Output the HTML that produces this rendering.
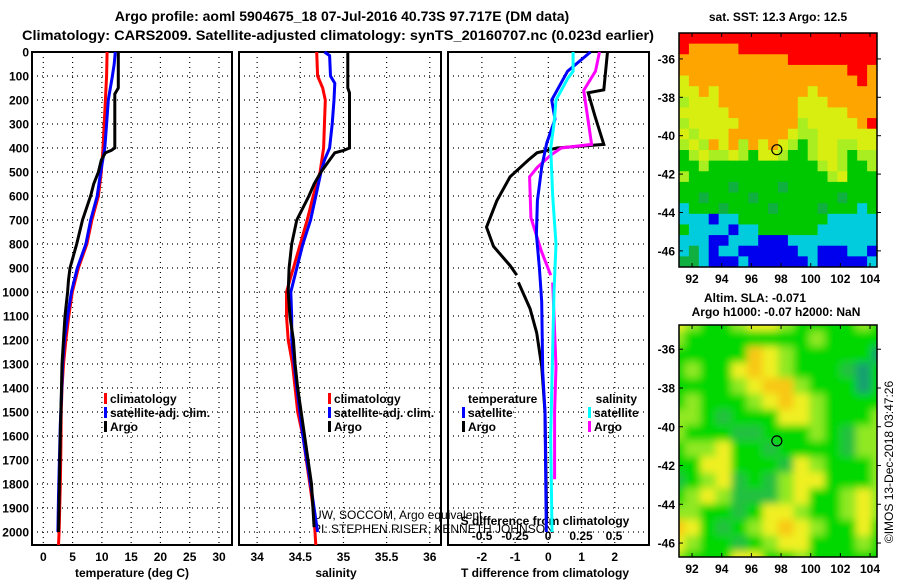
<!DOCTYPE html>
<html><head><meta charset="utf-8"><style>
html,body{margin:0;padding:0;background:#fff;}
svg{display:block;font-family:"Liberation Sans",sans-serif;}
.b{font-weight:bold;font-size:12px;}
.t{font-weight:bold;font-size:14px;}
</style></head><body>
<svg id="c" width="900" height="580" viewBox="0 0 900 580">
<text class="t" x="342" y="21" text-anchor="middle">Argo profile: aoml 5904675_18 07-Jul-2016 40.73S 97.717E (DM data)</text>
<text class="t" x="338" y="40" text-anchor="middle" textLength="632" lengthAdjust="spacingAndGlyphs">Climatology: CARS2009. Satellite-adjusted climatology: synTS_20160707.nc (0.023d earlier)</text>
<text class="b" x="778" y="21" text-anchor="middle">sat. SST: 12.3 Argo: 12.5</text>
<text class="b" x="755" y="302" text-anchor="middle">Altim. SLA: -0.071</text>
<text class="b" x="776" y="316" text-anchor="middle">Argo h1000: -0.07 h2000: NaN</text>
<text x="893" y="462" font-size="12" text-anchor="middle" transform="rotate(-90 893 462)">©IMOS 13-Dec-2018 03:47:26</text>
<text x="313" y="519" font-size="12">UW, SOCCOM, Argo equivalent</text>
<text x="313" y="533" font-size="12">PI: STEPHEN RISER, KENNETH JOHNSON</text>
</svg>
<script>
// ---- depth profile data ----
const tClimDepth=[0,100,200,300,400,500,600,700,800,900,1000,1100,1200,1300,1400,1500,1650,1800,2000,2054];
const tClim=[10.9,10.8,10.6,10.4,10.2,9.9,9.4,8.3,7.45,6.0,4.95,4.35,3.85,3.45,3.2,3.05,3.0,2.9,2.7,2.6];
const tSatDepth=[0,50,100,200,300,400,500,600,700,800,900,1000,1100,1200,1300,1400,1550,1850,2000];
const tSat=[12.3,12.1,11.8,11.1,10.8,10.5,9.8,9.2,8.1,7.27,5.8,4.8,4.15,3.6,3.3,3.15,2.9,2.6,2.5];
const tArgoDepth=[0,150,175,400,410,420,450,500,550,600,700,800,900,950,1000,1100,1200,1300,1400,1500,1600,2000];
const tArgo=[12.8,12.8,12.2,12.2,11.6,10.6,9.9,9.4,8.6,8.07,6.7,5.7,4.55,4.3,4.15,3.7,3.45,3.2,3.1,3.0,2.9,2.6];
const sClimDepth=[0,100,150,200,400,500,600,700,800,900,1000,1100,1200,1300,1400,1500,1600,1700,1800,1900,2000,2054];
const sClim=[34.69,34.70,34.76,34.79,34.77,34.73,34.65,34.58,34.50,34.42,34.34,34.34,34.36,34.41,34.44,34.47,34.53,34.57,34.61,34.65,34.67,34.68];
const sSatDepth=[0,15,100,130,200,300,400,450,500,600,700,800,900,1000,1100,1200,1300,1400,1600,1800,2000];
const sSat=[34.78,34.84,34.85,34.90,34.89,34.87,34.84,34.78,34.74,34.68,34.62,34.53,34.46,34.39,34.40,34.40,34.43,34.46,34.53,34.62,34.70];
const sArgoDepth=[0,150,170,400,410,420,470,500,550,600,700,800,900,1000,1100,1200,1300,1400,1600,1800,1980];
const sArgo=[35.05,35.05,35.07,35.07,35.0,34.9,34.8,34.74,34.66,34.6,34.46,34.40,34.37,34.36,34.38,34.42,34.44,34.47,34.55,34.63,34.66];
// ---- difference data ----
const dTSatDepth=[0,80,200,280,380,480,620,760,900,1040,1330,1500,2000];
const dTSat=[1.27,0.58,0.1,0.2,-0.05,-0.2,-0.33,-0.36,-0.27,-0.2,-0.17,-0.1,-0.06];
const dSSatDepth=[0,80,110,200,300,400,600,800,1000,1600,2000];
const dSSat=[0.19,0.19,0.15,0.06,0.045,0.02,0.035,0.06,0.045,0.02,0.03];
const dTArgoDepth=[0,158,170,265,385,400,420,450,520,620,730,810,890,930];
const dTArgo=[1.78,1.67,1.2,1.4,1.67,0.26,-0.34,-0.6,-1.15,-1.55,-1.86,-1.65,-1.15,-0.95];
const dTArgoDepth2=[960,1070,1170,1310,1500,1950];
const dTArgo2=[-0.9,-0.55,-0.35,-0.2,-0.1,-0.05];
const dSArgoDepth=[0,80,160,385,400,430,480,520,690,830,930];
const dSArgo=[0.39,0.36,0.27,0.33,0.1,0.02,-0.08,-0.14,-0.13,-0.05,0.02];
const dSArgoDepth2=[960,1310,1500,1780];
const dSArgo2=[0.035,0.06,0.05,0.05];
// ---- tick labels ----
const depthTicks=[0,100,200,300,400,500,600,700,800,900,1000,1100,1200,1300,1400,1500,1600,1700,1800,1900,2000];
const tTicks=[0,5,10,15,20,25,30];
const sTicks=[34,34.5,35,35.5,36];
const sTickLabels=["34","34.5","35","35.5","36"];
const dTTicks=[-2,-1,0,1,2];
const dSTicks=[-0.5,-0.25,0,0.25,0.5];
const dSTickLabels=["-0.5","-0.25","0","0.25","0.5"];
const lonTicks=[92,94,96,98,100,102,104];
const latTicks=[-36,-38,-40,-42,-44,-46];
// ---- SST map grid (R red,O orange,Y yellow,L lime,G green,D dark green,C cyan,B blue) ----
const sstRows=[
"RRRRRRRRRRRRRRRRRRRR","ROOOOORRRRRRRRRRRRRR","OOOOOOOOOOORRRRRRRRR","OOOOOOOOOOOOOOOOORRO",
"YOOOOOOOOOOOOOOOOORO","YYOYOOOOOOOOOYOOOOOO","LYYYOOOOOOOOYYYOOOOO","YYYYYOOOOOOOYYYYYOOO",
"LYYYYYOOOOOOLYYYYYOR","YLYYYOOOOOOYLLYYYYYY","LYLOYOLOYOYLGLYYLLYY","GLYLLYLGYYLGGLYYLGLL",
"GGLGGGGGGGGGGGLYLGGL","LGGGGGGGGGGGGGGLYGGG","GGGGGDGGGGDGGGGGGGGG","GGDGGGGDGGGGGGGGDGGG",
"CGGGDGGGGDGGGGDGGGCG","CCCBCCGGGGGGGGGCCCCC","GCCCCBCCGGGGGGCCCCCC","CCCBBCCCBBBCCCCCCCCC",
"CDCBCCBBBBBBCCBBBCCB","DDCBBBCBBBBBBCBBBBBC"];
// ---- SLA map grid (0 low ... 5 high) ----
const slaRows=[
"43223443222232","32222222232222","22222543222220","23224543222102",
"22223455322202","23222345432222","33212224432223","32221122232133",
"23342212222133","22442221432223","12341213442223","23431113422343",
"33221244322343","54212345432242","43221234422232","32224422322222"];
const argoLon=97.717, argoLat=-40.73;

const svg=document.getElementById('c');
const NS='http://www.w3.org/2000/svg';
function el(tag,attrs,parent){const e=document.createElementNS(NS,tag);for(const k in attrs)e.setAttribute(k,attrs[k]);(parent||svg).appendChild(e);return e;}
function txt(s,x,y,anchor,cls,parent){const e=el('text',{x:x,y:y,'text-anchor':anchor||'middle',class:cls||'b'},parent);e.textContent=s;return e;}

const PT=52,PB=545;
function yD(d){return PT+d*0.24;}
const panels=[
 {name:'temperature',x0:32,x1:232,vmin:-1.93,vmax:32.22},
 {name:'salinity',x0:239,x1:441,vmin:33.79,vmax:36.13},
 {name:'difference',x0:448,x1:649,vmin:-3.02,vmax:3.03}
];
function xf(p,v){return p.x0+(v-p.vmin)/(p.vmax-p.vmin)*(p.x1-p.x0);}
const sP={x0:448,x1:649,vmin:-0.758,vmax:0.765};

function line(p,depths,vals,color,name){
  const pts=depths.map((d,i)=>xf(p,vals[i]).toFixed(1)+','+yD(d).toFixed(1)).join(' ');
  const e=el('polyline',{points:pts,fill:'none',stroke:color,'stroke-width':3,'stroke-linejoin':'miter'});
  
  
}

panels.forEach((p,pi)=>{
  const g=el('g',{});
  
  
  depthTicks.forEach(d=>{ if(d>0) el('line',{x1:p.x0,x2:p.x1,y1:yD(d),y2:yD(d),stroke:'#000','stroke-dasharray':'1,4','stroke-width':1.2},g);});
  const xt = pi===0?tTicks:pi===1?sTicks:dTTicks;
  xt.forEach(v=>el('line',{x1:xf(p,v),x2:xf(p,v),y1:PT,y2:PB,stroke:'#000','stroke-dasharray':'1,4','stroke-width':1.2},g));
  el('rect',{x:p.x0,y:PT,width:p.x1-p.x0,height:PB-PT,fill:'none',stroke:'#000','stroke-width':2},g);
  xt.forEach((v,i)=>{
    const lab = pi===1?sTickLabels[i]:String(v);
    const t=txt(lab,xf(p,v),561,'middle','b',g);
    
    
  });
});
depthTicks.forEach(d=>{const t=txt(String(d),29,yD(d)+4.5,'end','b');
  
  });
let t;
t=txt('temperature (deg C)',132,577);
t=txt('salinity',336,577);
t=txt('T difference from climatology',545,577);
t=txt('S difference from climatology',545,525);
dSTicks.forEach((v,i)=>{const e=txt(dSTickLabels[i],xf(sP,v),540);
  
  });

const P1=panels[0],P2=panels[1],P3=panels[2];
line(P1,tClimDepth,tClim,'#f00','temp-climatology-line');
line(P1,tSatDepth,tSat,'#00f','temp-satellite-line');
line(P1,tArgoDepth,tArgo,'#000','temp-argo-line');
line(P2,sClimDepth,sClim,'#f00','sal-climatology-line');
line(P2,sSatDepth,sSat,'#00f','sal-satellite-line');
line(P2,sArgoDepth,sArgo,'#000','sal-argo-line');
line(P3,dTArgoDepth,dTArgo,'#000','tdiff-argo-line');
line(P3,dTArgoDepth2,dTArgo2,'#000','tdiff-argo-line-deep');
line(sP,dSArgoDepth,dSArgo,'#f0f','sdiff-argo-line');
line(sP,dSArgoDepth2,dSArgo2,'#f0f','sdiff-argo-line-deep');
line(P3,dTSatDepth,dTSat,'#00f','tdiff-satellite-line');
line(sP,dSSatDepth,dSSat,'#0ff','sdiff-satellite-line');

function legend(x,y,color,label,name){
  const g=el('g',{});
  
  
  el('rect',{x:x-6,y:y-10,width:3,height:11,fill:color},g);
  txt(label,x,y,'start','b',g);
}
legend(110,403,'#f00','climatology','legend-climatology');
legend(110,417,'#00f','satellite-adj. clim.','legend-satellite-adj');
legend(110,431,'#000','Argo','legend-argo');
legend(334,403,'#f00','climatology','legend-climatology-sal');
legend(334,417,'#00f','satellite-adj. clim.','legend-satellite-adj-sal');
legend(334,431,'#000','Argo','legend-argo-sal');
t=txt('temperature',468,403,'start');
legend(468,417,'#00f','satellite','legend-t-satellite');
legend(468,431,'#000','Argo','legend-t-argo');
t=txt('salinity',637,403,'end');
legend(594,417,'#0ff','satellite','legend-s-satellite');
legend(594,431,'#f0f','Argo','legend-s-argo');

// ---- maps ----
const M1={x0:679,x1:877,y0:33,y1:267,lon0:91.12,lon1:104.47,lat0:-34.65,lat1:-46.84};
const M2={x0:679,x1:877,y0:325,y1:557,lon0:91.12,lon1:104.47,lat0:-34.75,lat1:-46.72};
function mx(m,lon){return m.x0+(lon-m.lon0)/(m.lon1-m.lon0)*(m.x1-m.x0);}
function my(m,lat){return m.y0+(lat-m.lat0)/(m.lat1-m.lat0)*(m.y1-m.y0);}
const sstColors={R:'#ff0000',O:'#ffa500',Y:'#d8ee10',L:'#a8ee20',G:'#00c800',D:'#10b040',C:'#00ccdd',B:'#0000ee'};
const slaColors=['#18a070','#20c040','#00d800','#90e820','#f0f020','#f8c818'];
const defs=el('defs',{});
const flt=el('filter',{id:'bl',x:'-10%',y:'-10%',width:'120%',height:'120%'},defs);
el('feGaussianBlur',{stdDeviation:4},flt);
const cp=el('clipPath',{id:'cp2'},defs);
el('rect',{x:M2.x0,y:M2.y0,width:M2.x1-M2.x0,height:M2.y1-M2.y0},cp);

const g1=el('g',{});


const nr=sstRows.length,nc=sstRows[0].length;
const cw=(M1.x1-M1.x0)/nc,ch=(M1.y1-M1.y0)/nr;
sstRows.forEach((row,r)=>{[...row].forEach((c,k)=>{
  const cell=el('rect',{x:(M1.x0+k*cw).toFixed(2),y:(M1.y0+r*ch).toFixed(2),width:(cw+0.5).toFixed(2),height:(ch+0.5).toFixed(2),fill:sstColors[c]},g1);
  
  
});});
el('rect',{x:M1.x0,y:M1.y0,width:M1.x1-M1.x0,height:M1.y1-M1.y0,fill:'none',stroke:'#000','stroke-width':1.5},g1);

const g2=el('g',{'clip-path':'url(#cp2)'});


el('rect',{x:M2.x0,y:M2.y0,width:M2.x1-M2.x0,height:M2.y1-M2.y0,fill:slaColors[2]},g2);
const gb=el('g',{filter:'url(#bl)'},g2);
const nr2=slaRows.length,nc2=slaRows[0].length;
const cw2=(M2.x1-M2.x0+20)/nc2,ch2=(M2.y1-M2.y0+20)/nr2;
slaRows.forEach((row,r)=>{[...row].forEach((c,k)=>{
  const cell=el('rect',{x:(M2.x0-10+k*cw2).toFixed(2),y:(M2.y0-10+r*ch2).toFixed(2),width:(cw2+0.5).toFixed(2),height:(ch2+0.5).toFixed(2),fill:slaColors[+c]},gb);
  
  
});});
el('rect',{x:M2.x0,y:M2.y0,width:M2.x1-M2.x0,height:M2.y1-M2.y0,fill:'none',stroke:'#000','stroke-width':1.5});

[M1,M2].forEach((m,mi)=>{
  const c=el('circle',{cx:mx(m,argoLon),cy:my(m,argoLat),r:5,fill:'none',stroke:'#000','stroke-width':1.2});
  
  
  lonTicks.forEach(v=>{
    const x=mx(m,v);
    el('line',{x1:x,x2:x,y1:m.y1,y2:m.y1-4,stroke:'#000'});
    el('line',{x1:x,x2:x,y1:m.y0,y2:m.y0+4,stroke:'#000'});
    const e=txt(String(v),x,m.y1+16);
    
    
  });
  latTicks.forEach(v=>{
    const y=my(m,v);
    el('line',{x1:m.x0,x2:m.x0+4,y1:y,y2:y,stroke:'#000'});
    el('line',{x1:m.x1,x2:m.x1+4,y1:y,y2:y,stroke:'#000'});
    const e=txt(String(v),675,y+4.5,'end');
    
    
  });
});
</script>
</body></html>
